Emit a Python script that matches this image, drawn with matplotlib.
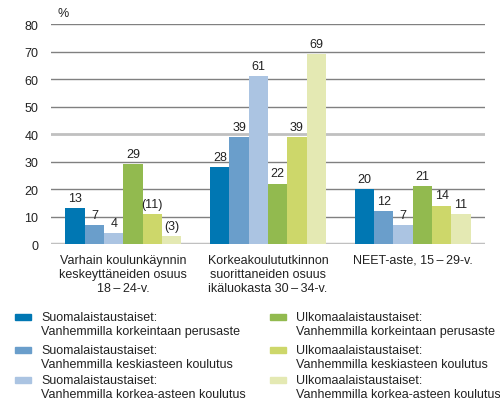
"""Koulutustaso vanhempien koulutuksen ja taustan mukaan"""

import numpy as np
import matplotlib.pyplot as plt
from matplotlib.patches import Rectangle

plt.rcParams['font.family'] = ['Liberation Sans', 'DejaVu Sans']

categories = [
    "Varhain koulunkäynnin\nkeskeyttäneiden osuus\n18\u2009\u2013\u200924-v.",
    "Korkeakoulututkinnon\nsuorittaneiden osuus\nikäluokasta 30\u2009\u2013\u200934-v.",
    "NEET-aste, 15\u2009\u2013\u200929-v.",
]

series_names = [
    ("Suomalaistaustaiset:", "Vanhemmilla korkeintaan perusaste"),
    ("Suomalaistaustaiset:", "Vanhemmilla keskiasteen koulutus"),
    ("Suomalaistaustaiset:", "Vanhemmilla korkea-asteen koulutus"),
    ("Ulkomaalaistaustaiset:", "Vanhemmilla korkeintaan perusaste"),
    ("Ulkomaalaistaustaiset:", "Vanhemmilla keskiasteen koulutus"),
    ("Ulkomaalaistaustaiset:", "Vanhemmilla korkea-asteen koulutus"),
]

fin_basic = [13, 28, 20]
fin_mid = [7, 39, 12]
fin_high = [4, 61, 7]
for_basic = [29, 22, 21]
for_mid = [11, 39, 14]
for_high = [3, 69, 11]

# uncertain values are shown in brackets
value_labels = [
    ["13", "28", "20"],
    ["7", "39", "12"],
    ["4", "61", "7"],
    ["29", "22", "21"],
    ["(11)", "39", "14"],
    ["(3)", "69", "11"],
]

colors = ['#0077b3', '#6a9ecb', '#abc4e2', '#92ba4f', '#cdd76a', '#e4e9b3']

series = [fin_basic, fin_mid, fin_high, for_basic, for_mid, for_high]

fig = plt.figure(figsize=(5, 4.1), dpi=100)
ax = fig.add_axes([0.102, 0.4024, 0.868, 0.5366])

x = np.arange(len(categories))
width = 0.8 / len(series)

for i, (vals, color) in enumerate(zip(series, colors)):
    pos = x - 0.4 + width * (i + 0.5)
    ax.bar(pos, vals, width=width, color=color, zorder=3)
    for p, v, lab in zip(pos, vals, value_labels[i]):
        ax.text(p, v + 1.5, lab, ha='center', va='bottom', fontsize=9,
                color='#222222', zorder=4)

ax.set_xlim(-0.5, 2.5)
ax.set_ylim(0, 80)
ax.set_yticks(range(0, 81, 10))
ax.set_xticks(x)
ax.set_xticklabels(categories, fontsize=9, linespacing=1.25)
ax.tick_params(axis='both', length=0, labelsize=9, colors='#222222')
ax.tick_params(axis='y', pad=9)
ax.tick_params(axis='x', pad=7)

for spine in ax.spines.values():
    spine.set_visible(False)

for yv in range(10, 81, 10):
    if yv == 40:
        ax.axhline(yv, color='#c0c0c0', lw=2, zorder=1)
    else:
        ax.axhline(yv, color='#808080', lw=1, zorder=1)
ax.axhline(0, color='#c0c0c0', lw=2.5, zorder=2)

fig.text(0.115, 0.965, '%', fontsize=9, ha='left', va='center', color='#222222')

# legend drawn by hand, two columns
rows_y = [318, 351, 381]
col_x = [(15, 41), (270, 296)]
for i, (line1, line2) in enumerate(series_names):
    col = i // 3
    row = i % 3
    sx, tx = col_x[col]
    y1 = rows_y[row]
    fig.patches.append(Rectangle((sx / 500, 1 - (y1 + 3) / 410), 16 / 500, 6 / 410,
                                 transform=fig.transFigure, color=colors[i]))
    fig.text(tx / 500, 1 - y1 / 410, line1, fontsize=9, ha='left', va='center',
             color='#222222')
    fig.text(tx / 500, 1 - (y1 + 14) / 410, line2, fontsize=9, ha='left',
             va='center', color='#222222')

plt.savefig('out.png', dpi=100)
plt.close()
